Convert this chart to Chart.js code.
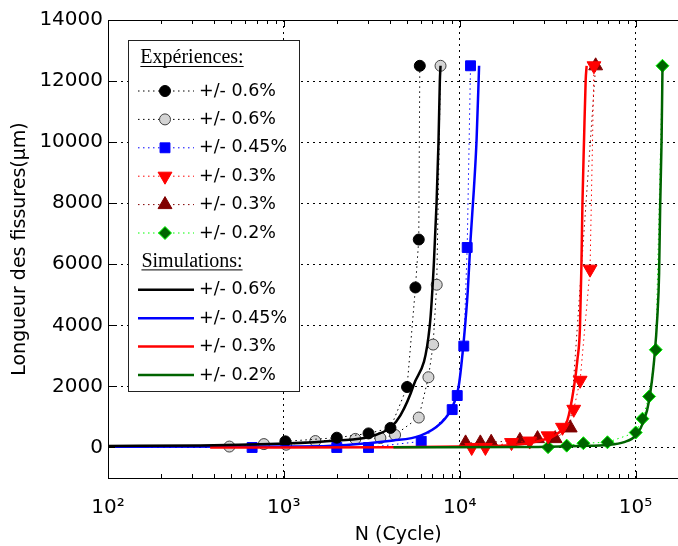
<!DOCTYPE html>
<html>
<head>
<meta charset="utf-8">
<script src="https://cdn.jsdelivr.net/npm/chart.js@4.4.1/dist/chart.umd.min.js"></script>
<style>
  html, body { margin: 0; padding: 0; background: #fff; overflow: hidden; }
  #wrap { width: 700px; height: 546px; }
</style>
</head>
<body>
<div id="wrap"><canvas id="crackChart" width="700" height="546"></canvas></div>
<script>
// Longueur des fissures vs N (cycles) - essais et simulations

// axes
const xTickValues = [100, 1000, 10000, 100000];
const xTickLabels = ['10²', '10³', '10⁴', '10⁵'];
const yTickValues = [0, 2000, 4000, 6000, 8000, 10000, 12000, 14000];
const yTickLabels = ['0', '2000', '4000', '6000', '8000', '10000', '12000', '14000'];

// Expériences
const expA06N = [1020, 2000, 3030, 4040, 5020, 5600, 5850, 5930];
const expA06L = [200, 320, 460, 640, 1980, 5240, 6810, 12500];
const expB06N = [490, 770, 1030, 1510, 2550, 3540, 4290, 5850, 6640, 7060, 7400, 7780];
const expB06L = [30, 110, 90, 210, 280, 310, 410, 980, 2300, 3370, 5330, 12500];
const exp045N = [660, 2000, 3030, 6040, 9060, 9680, 10550, 11030, 11520];
const exp045L = [0, 0, 0, 200, 1240, 1700, 3320, 6550, 12500];
const expA03N = [11700, 14000, 19700, 25000, 31800, 38400, 44500, 48400, 55100, 58000];
const expA03L = [0, 0, 160, 210, 380, 660, 1250, 2200, 5840, 12500];
const expB03N = [10800, 13100, 15100, 22000, 27700, 34900, 42500, 59300];
const expB03L = [150, 150, 170, 230, 290, 290, 640, 12500];
const exp02N = [31800, 40600, 50500, 69200, 100200, 109400, 119400, 130300, 142200];
const exp02L = [10, 60, 140, 170, 490, 940, 1670, 3200, 12500];

// Simulations
const sim06N = [100, 334, 1018, 2020, 3030, 4040, 4600, 5460, 6760, 7125, 7385, 7575, 7710, 7780];
const sim06L = [50, 65, 130, 230, 345, 650, 1050, 2030, 4000, 6000, 8000, 10000, 12000, 12500];
const sim045N = [100, 1240, 4200, 5980, 7780, 9060, 9880, 10550, 11120, 11520, 12030, 12470, 12850, 12890];
const sim045L = [20, 30, 230, 390, 790, 1320, 2030, 3510, 5150, 6790, 8430, 10070, 12260, 12500];
const sim03N = [381, 4200, 10240, 20230, 28830, 35890, 40940, 44650, 46660, 48300, 49200, 49880, 50930, 52040, 52700];
const sim03L = [0, 10, 30, 80, 230, 450, 885, 1980, 2850, 3940, 5910, 7990, 10070, 12030, 12500];
const sim02N = [4200, 22180, 48700, 69200, 86100, 100300, 111800, 119400, 127500, 133300, 136100, 138000, 140600, 142300];
const sim02L = [10, 15, 50, 80, 175, 395, 885, 1540, 2850, 4380, 5700, 7880, 10070, 12500];

function pts(xs, ys) {
    return xs.map((x, i) => ({ x: x, y: ys[i] }));
}

function expSet(label, xs, ys, lineColor, style, radius, fill, edge, order, rot) {
    return {
        label: label,
        data: pts(xs, ys),
        showLine: true,
        borderColor: lineColor,
        borderWidth: 1,
        borderDash: [1.5, 3.5],
        pointStyle: style,
        pointRadius: radius,
        pointRotation: rot || 0,
        pointBackgroundColor: fill,
        pointBorderColor: edge,
        pointBorderWidth: 1,
        order: order
    };
}

function simSet(label, xs, ys, color, order) {
    return {
        label: label,
        data: pts(xs, ys),
        showLine: true,
        borderColor: color,
        borderWidth: 2.5,
        pointRadius: 0,
        cubicInterpolationMode: 'monotone',
        order: order
    };
}

const datasets = [
    expSet('+/- 0.6%', expA06N, expA06L, '#000000', 'circle', 5.5, '#000000', '#000000', 4),
    expSet('+/- 0.6%', expB06N, expB06L, '#000000', 'circle', 5.5, '#d4d4d4', '#404040', 5),
    expSet('+/- 0.45%', exp045N, exp045L, '#0000ff', 'rect', 7, '#0000ff', '#0000ff', 6),
    expSet('+/- 0.3%', expA03N, expA03L, '#ff0000', 'triangle', 8, '#ff0000', '#ff0000', 7, 180),
    expSet('+/- 0.3%', expB03N, expB03L, '#800000', 'triangle', 8, '#800000', '#800000', 8),
    expSet('+/- 0.2%', exp02N, exp02L, '#00ff00', 'rectRot', 6.5, '#006400', '#00ff00', 9),
    simSet('+/- 0.6%', sim06N, sim06L, '#000000', 0),
    simSet('+/- 0.45%', sim045N, sim045L, '#0000ff', 3),
    simSet('+/- 0.3%', sim03N, sim03L, '#ff0000', 2),
    simSet('+/- 0.2%', sim02N, sim02L, '#006400', 1)
];

// cadre, graduations internes (style MATLAB)
const framePlugin = {
    id: 'frameTicks',
    afterDatasetsDraw(chart) {
        const ctx = chart.ctx;
        const a = chart.chartArea;
        const xs = chart.scales.x, ys = chart.scales.y;
        ctx.save();
        ctx.strokeStyle = '#000';
        ctx.lineWidth = 1;
        ctx.beginPath();
        ctx.moveTo(a.left, a.top + 0.5);
        ctx.lineTo(a.right, a.top + 0.5);
        for (let d = 100; d < 200000; d *= 10) {
            for (let k = 1; k <= 9; k++) {
                const v = d * k;
                if (v > xs.max) break;
                const px = Math.round(xs.getPixelForValue(v)) + 0.5;
                const len = k === 1 ? 7 : 4;
                ctx.moveTo(px, a.bottom);
                ctx.lineTo(px, a.bottom - len);
                ctx.moveTo(px, a.top);
                ctx.lineTo(px, a.top + len);
            }
        }
        yTickValues.forEach(v => {
            const py = Math.round(ys.getPixelForValue(v)) + 0.5;
            ctx.moveTo(a.left, py);
            ctx.lineTo(a.left + 7, py);
            ctx.moveTo(a.right, py);
            ctx.lineTo(a.right - 7, py);
        });
        ctx.stroke();
        ctx.restore();
    }
};

// légende encadrée
const legendPlugin = {
    id: 'boxLegend',
    afterDraw(chart) {
        const ctx = chart.ctx;
        const a = chart.chartArea;
        const bx = a.left + 20, by = a.top + 20, bw = 171, bh = 351;
        const step = 28.4;
        ctx.save();
        ctx.fillStyle = '#fff';
        ctx.fillRect(bx, by, bw, bh);
        ctx.strokeStyle = '#222';
        ctx.lineWidth = 1;
        ctx.strokeRect(bx + 0.5, by + 0.5, bw, bh);

        function header(text, y) {
            ctx.font = '20px "Liberation Serif"';
            ctx.fillStyle = '#000';
            ctx.textAlign = 'center';
            ctx.textBaseline = 'middle';
            const cx = bx + 64;
            ctx.fillText(text, cx, y);
            const w = ctx.measureText(text).width;
            ctx.fillRect(cx - w / 2, y + 8, w, 1);
        }

        function row(ds, y) {
            ctx.save();
            ctx.strokeStyle = ds.borderColor;
            ctx.lineWidth = ds.borderWidth;
            ctx.setLineDash(ds.borderDash || []);
            ctx.beginPath();
            ctx.moveTo(bx + 10, y);
            ctx.lineTo(bx + 66, y);
            ctx.stroke();
            ctx.restore();
            if (ds.pointRadius > 0) {
                ctx.save();
                ctx.fillStyle = ds.pointBackgroundColor;
                ctx.strokeStyle = ds.pointBorderColor;
                ctx.lineWidth = ds.pointBorderWidth;
                Chart.helpers.drawPoint(ctx, {
                    pointStyle: ds.pointStyle,
                    radius: ds.pointRadius,
                    rotation: ds.pointRotation,
                    borderWidth: ds.pointBorderWidth
                }, bx + 37, y);
                ctx.restore();
            }
            ctx.font = '17.5px "DejaVu Sans"';
            ctx.fillStyle = '#000';
            ctx.textAlign = 'left';
            ctx.textBaseline = 'middle';
            ctx.fillText(ds.label, bx + 71, y);
        }

        header('Expériences:', by + 18);
        for (let i = 0; i < 6; i++) row(datasets[i], by + 51 + i * step);
        header('Simulations:', by + 51 + 6 * step);
        for (let i = 6; i < 10; i++) row(datasets[i], by + 51 + (i + 1) * step);
        ctx.restore();
    }
};

Chart.defaults.font.family = '"DejaVu Sans"';
Chart.defaults.color = '#000';

const chart = new Chart(document.getElementById('crackChart').getContext('2d'), {
    type: 'scatter',
    data: { datasets: datasets },
    options: {
        responsive: false,
        animation: false,
        layout: { padding: { top: 20, right: 11.5, left: 0, bottom: 0 } },
        plugins: {
            legend: { display: false },
            tooltip: { enabled: false }
        },
        scales: {
            x: {
                type: 'logarithmic',
                position: 'bottom',
                min: 100,
                max: 200000,
                afterBuildTicks: scale => {
                    scale.ticks = xTickValues.map(v => ({ value: v }));
                },
                afterFit: scale => { scale.height = 68; },
                ticks: {
                    autoSkip: false,
                    maxRotation: 0,
                    padding: 18,
                    font: { size: 20 },
                    callback: (value, index) => xTickLabels[index]
                },
                grid: { color: '#000', lineWidth: 1, drawTicks: false },
                border: { display: true, color: '#000', width: 1, dash: [2, 4] },
                title: {
                    display: true,
                    text: 'N (Cycle)',
                    font: { size: 19 },
                    padding: { top: 0, bottom: 0 }
                }
            },
            y: {
                type: 'linear',
                min: -1000,
                max: 14000,
                afterBuildTicks: scale => {
                    scale.ticks = yTickValues.map(v => ({ value: v }));
                },
                afterFit: scale => { scale.width = 108; },
                ticks: {
                    padding: 5,
                    font: { size: 20 },
                    callback: (value, index) => yTickLabels[index]
                },
                grid: { color: '#000', lineWidth: 1, drawTicks: false },
                border: { display: true, color: '#000', width: 1, dash: [2, 4] },
                title: {
                    display: true,
                    text: 'Longueur des fissures(μm)',
                    font: { size: 19 },
                    padding: { top: 9, bottom: 0 }
                }
            }
        }
    },
    plugins: [framePlugin, legendPlugin]
});
</script>
</body>
</html>
